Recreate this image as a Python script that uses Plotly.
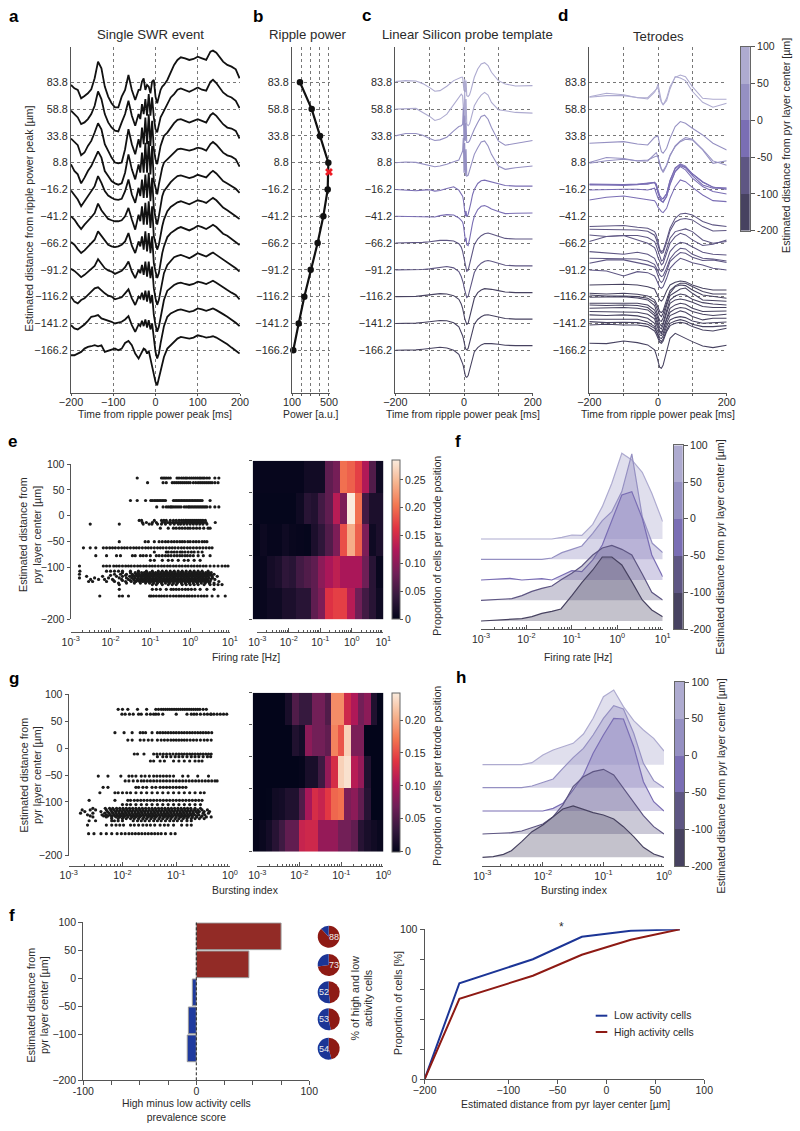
import plotly.graph_objects as go

W, H = 800, 1131
FONT = "Liberation Sans, Arial, sans-serif"
INK = "#2a2a2a"
LINE = "#555555"
BANDS = ["#aeabd0", "#9590c2", "#7a6eb4", "#5e5683", "#474260"]
ROCKET = [[0, "#03051a"], [1/7, "#35193e"], [2/7, "#701f57"], [3/7, "#ad1759"],
          [4/7, "#e13342"], [5/7, "#f37651"], [6/7, "#f6b48f"], [1, "#faebdd"]]
RED, BLUE = "#922b26", "#1f3a9e"

ROWS = [83.8, 58.8, 33.8, 8.8, -16.2, -41.2, -66.2, -91.2, -116.2, -141.2, -166.2]
ROW_TEXT = ["83.8", "58.8", "33.8", "8.8", "−16.2", "−41.2", "−66.2", "−91.2", "−116.2", "−141.2", "−166.2"]
ROW_BAND = [0, 0, 1, 1, 2, 2, 3, 3, 4, 4, 4]
DEFL = 3.216  # trace amplitude units per axis unit

T_A = [-200,-192,-184,-176,-168,-160,-152,-144,-136,-128,-120,-112,-104,-96,-88,-80,-72,-64,-56,-48,-40,-36,-32,-28,-24,-20,-16,-12,-8,-4,0,4,8,12,16,20,28,36,44,52,60,70,80,90,100,110,120,130,136,144,152,160,170,180,190,199]
A0 = [-8,-18,-23,-48,-41,-33,-21,12,62,42,-13,-43,-63,-75,-75,-43,-23,22,-23,-53,-23,-23,2,12,-23,-8,-13,-33,2,7,-43,-63,-43,-23,-13,-8,7,32,52,67,75,72,67,70,77,72,67,92,95,89,77,62,52,47,39,12]
A1 = [-5,-15,-25,-45,-40,-30,-15,10,53,30,-15,-40,-55,-65,-67,-40,-15,25,-20,-50,-15,-30,15,-15,30,-20,45,-20,35,-25,-60,-70,-45,-25,-15,-5,15,35,45,58,62,58,52,58,65,58,55,82,88,78,65,50,40,35,25,3]
A2 = [-8,-18,-28,-58,-50,-30,-15,10,38,20,-25,-45,-65,-80,-82,-80,-40,20,-25,-55,-10,-35,25,-25,55,-25,65,-30,45,-40,-70,-85,-55,-30,-15,0,10,25,38,48,50,45,40,45,50,45,40,62,68,60,48,35,25,22,15,-8]
A3 = [-5,-25,-35,-62,-45,-25,-10,10,34,15,-25,-40,-55,-62,-66,-62,-30,25,-20,-50,-5,-30,30,-30,60,-30,65,-35,50,-55,-80,-95,-65,-35,-15,0,10,22,32,40,42,40,36,40,45,42,36,56,62,54,42,30,22,18,10,-12]
A4 = [-3,-15,-30,-50,-35,-20,-5,10,40,20,-5,-18,-25,-30,-31,-28,-5,30,-15,-40,5,-20,30,-25,45,-25,50,-35,35,-55,-85,-105,-80,-45,-20,-5,10,22,32,40,42,38,34,38,44,40,36,50,56,48,36,25,18,10,2,-10]
A5 = [0,-10,-25,-38,-25,-15,-3,10,38,18,5,-8,-12,-15,-15,-12,0,25,-10,-40,5,-15,30,-25,40,-25,45,-35,30,-60,-80,-100,-85,-55,-30,-10,15,28,35,42,45,40,36,42,48,45,40,50,55,48,36,26,18,10,0,-8]
A6 = [3,-5,-18,-30,-22,-12,-2,10,35,22,8,-5,-10,-12,-10,-5,5,30,-8,-30,5,-10,20,-20,35,-25,30,-30,20,-60,-85,-105,-90,-55,-30,-10,18,30,38,44,48,42,38,44,52,48,42,50,55,48,38,28,22,12,2,-6]
A7 = [3,-3,-12,-22,-15,-5,3,12,32,20,5,-2,-5,-12,-8,-3,8,25,-5,-25,0,-10,15,-15,25,-20,25,-25,10,-55,-85,-105,-90,-60,-32,-10,15,28,38,42,45,40,35,42,50,45,40,48,52,45,38,30,22,15,5,-5]
A8 = [0,-15,-20,-10,-5,5,15,25,28,18,10,3,0,-8,-5,-2,10,22,-5,-25,0,-5,12,-10,18,-15,18,-20,5,-55,-85,-105,-90,-60,-32,-10,18,28,35,40,42,38,35,38,45,42,38,44,48,42,36,28,20,12,5,-8]
A9 = [-5,-15,-18,-10,-3,8,20,22,25,15,12,8,5,0,2,5,12,22,-5,-25,-3,-8,8,-8,12,-12,10,-18,0,-50,-85,-105,-90,-60,-32,-8,20,30,35,40,42,38,35,38,45,42,38,42,45,40,35,28,20,12,2,-8]
A10 = [-15,-15,-10,-5,5,10,12,15,12,15,-5,-2,2,5,0,5,22,28,15,-10,-25,-15,-5,5,2,-10,-2,-25,-45,-70,-95,-105,-85,-60,-40,-20,5,15,28,35,40,38,35,38,45,42,38,40,42,38,32,25,18,8,-2,-10]
A_TRACES = [A0, A1, A2, A3, A4, A5, A6, A7, A8, A9, A10]

POWER = [186, 313, 403, 493, 486, 439, 377, 302, 233, 172, 114]
PEAK_POWER, PEAK_DEPTH = 500, 0.1

T_C = [-200,-170,-140,-120,-100,-85,-70,-50,-30,-15,-8,-4,-2,0,2,4,6,8,12,16,20,25,30,40,50,60,70,80,100,120,150,200]
C0 = [2,5,4,-4,-16,-27,-25,-12,5,13,15,15,0,-25,10,-30,5,-40,-43,-38,-25,-5,15,40,55,59,50,30,5,-5,-11,-10]
C1 = [0,2,2,-10,-22,-34,-30,-15,15,35,45,40,0,-30,55,-40,30,-45,-50,-45,-30,-5,10,28,42,50,42,20,-2,-5,-10,-12]
C2 = [0,7,7,2,-8,-14,-12,-4,15,28,30,35,85,-20,60,-15,40,-20,-20,-15,-5,10,20,40,58,62,50,25,-15,-28,-22,-14]
C3 = [0,2,1,-3,-8,-12,-10,-5,3,8,25,35,75,-30,60,-40,40,-40,-38,-25,-10,5,25,45,62,65,50,25,-10,-20,-15,-10]
C4 = [0,-1,-4,-2,-1,-5,-3,3,8,-2,-15,-20,-30,-45,-50,-80,-65,-82,-75,-60,-40,-15,0,18,26,28,25,22,16,12,10,10]
C5 = [0,0,-1,-2,-1,-2,2,5,4,-5,-12,-18,-25,-35,-55,-75,-65,-85,-88,-70,-45,-20,0,20,30,32,28,22,14,8,9,10]
C6 = [0,0,1,2,4,6,8,8,6,-2,-12,-25,-35,-50,-60,-72,-78,-85,-82,-65,-45,-22,-5,12,22,28,30,27,20,14,12,12]
C7 = [0,0,0,1,3,5,8,10,6,-5,-20,-32,-40,-52,-62,-72,-78,-83,-80,-65,-45,-25,-8,10,20,26,28,26,20,14,12,12]
C8 = [0,0,1,3,6,8,9,8,3,-8,-22,-35,-42,-55,-65,-74,-79,-83,-80,-62,-42,-22,-5,12,20,24,24,22,18,14,12,12]
C9 = [0,0,1,3,6,8,9,8,2,-10,-25,-37,-44,-56,-66,-74,-78,-79,-75,-58,-38,-18,-2,12,20,25,26,24,20,15,13,13]
C10 = [0,0,1,3,6,8,9,7,0,-12,-27,-40,-47,-60,-70,-77,-80,-81,-76,-60,-40,-20,-5,8,16,20,21,20,18,15,14,14]
C_TRACES = [C0, C1, C2, C3, C4, C5, C6, C7, C8, C9, C10]

T_D = [-200,-150,-100,-60,-30,-10,-5,0,5,10,15,25,35,50,65,80,100,130,160,200]
D_BASE = [70.4,69.8,26.9,8.9,8.2,-11,-12,-16.6,-26,-11.5,-50.8,-53.3,-58.6,-64.8,-74.2,-80.4,-85,-91.3,-105.3,-113,-114.6,-116.8,-122.4,-123.9,-127,-130.1,-133.2,-137.3,-139.5,-142.6,-159.7]
D_BAND = [0,0,1,1,1,2,2,2,2,2,3,3,3,3,3,3,3,3,4,4,4,4,4,4,4,4,4,4,4,4,4]
D_TRACES = [
 [0,10,6,-3,-3,18,22,38,5,-15,-25,-5,30,58,65,60,30,-5,-8,-8],
 [0,5,5,-2,-5,15,25,30,0,-15,-22,-10,25,62,58,50,18,-15,-30,-18],
 [0,2,5,-2,-5,18,20,22,-5,-25,-30,-15,15,50,65,60,45,25,0,-20],
 [0,15,12,5,5,25,30,18,-5,-20,-30,-10,20,50,65,75,70,40,5,-8],
 [0,8,12,8,10,20,22,20,-5,-18,-22,-5,25,50,65,72,70,40,0,8],
 [0,-1,-2,0,2,4,0,-20,-35,-42,-45,-30,10,45,58,50,30,5,-10,-12],
 [0,0,0,2,2,8,-5,-25,-38,-48,-50,-35,5,40,58,52,28,0,-10,-10],
 [0,2,2,2,0,5,-8,-25,-30,-35,-38,-20,15,55,70,60,35,10,-5,-12],
 [0,8,12,5,0,-2,-10,-22,-28,-35,-38,-25,5,40,60,55,38,15,-2,-5],
 [0,-2,-3,-1,3,6,-2,-25,-40,-45,-42,-28,12,50,62,55,32,8,-8,-15],
 [0,1,3,-2,-5,-15,-25,-45,-68,-75,-72,-40,-5,25,38,40,35,15,5,0],
 [0,0,0,-2,-6,-18,-30,-48,-65,-72,-70,-40,-5,22,30,32,28,8,-5,-4],
 [0,-5,-2,-2,-8,-20,-32,-50,-68,-78,-75,-45,-10,10,15,18,10,-15,-25,-20],
 [0,15,18,5,-5,-18,-30,-48,-62,-70,-65,-35,-5,15,25,20,5,-12,-8,5],
 [0,-5,-8,-2,-8,-20,-30,-42,-55,-60,-55,-30,0,18,28,25,15,-2,-8,-10],
 [0,0,0,-2,-8,-18,-28,-38,-50,-55,-52,-30,-2,18,30,28,12,0,-2,-8],
 [0,10,10,2,-5,-12,-22,-38,-52,-58,-52,-25,5,20,32,30,18,8,10,2],
 [0,-3,-18,-5,-8,-18,-28,-40,-52,-55,-50,-25,5,22,35,30,22,15,5,0],
 [0,2,2,0,-5,-12,-22,-35,-45,-48,-42,-18,0,8,12,10,0,-10,-15,-15],
 [0,-2,0,-3,-8,-20,-30,-42,-55,-58,-52,-20,8,22,30,30,20,5,-2,-2],
 [0,-3,-3,-5,-10,-22,-35,-48,-60,-65,-55,-25,5,25,30,28,15,0,-5,-10],
 [0,2,2,-2,-8,-25,-40,-55,-70,-72,-62,-25,5,15,25,28,12,-8,-10,-12],
 [0,0,2,0,-5,-20,-32,-48,-62,-68,-58,-22,10,22,28,25,12,2,-2,-5],
 [0,-2,0,-2,-8,-25,-38,-52,-68,-72,-60,-25,5,15,18,15,8,-5,-8,-8],
 [0,2,2,0,-5,-22,-35,-52,-68,-72,-62,-28,0,10,15,12,0,-10,-10,-8],
 [0,0,0,-2,-8,-22,-38,-52,-62,-66,-55,-25,-2,8,12,10,0,-8,-12,-8],
 [0,-2,0,-3,-10,-25,-40,-52,-60,-62,-55,-25,-2,5,12,8,-5,-15,-10,-10],
 [0,0,2,0,-8,-22,-35,-45,-55,-58,-50,-22,-2,5,8,5,-5,-12,-10,-8],
 [0,-3,-2,-3,-8,-20,-30,-42,-55,-60,-52,-25,-5,2,6,2,-8,-15,-15,-12],
 [0,2,0,0,-5,-18,-28,-40,-52,-55,-48,-20,-2,5,8,5,-5,-15,-18,-10],
 [0,-1,7,2,-5,-20,-35,-55,-72,-75,-65,-25,15,30,22,15,5,-8,-13,-6],
]

E_DEPTH = [73,64,29.5,17,-9,-13,-16,-24,-50,-62,-70,-77,-86,-97,-107,-110,-113,-115,-117,-120,-123,-125,-127,-130,-133,-142,-155]
E_LOGX = [
 [-1.33,-0.72,-0.68,-0.64,-0.6,-0.55,-0.5,-0.33,-0.28,-0.22,-0.17,-0.12,-0.08,-0.02,0.03,0.08,0.13,0.18,0.23,0.27,0.32,0.36,0.42,0.48,0.62,0.72],
 [-1.07,-0.68,-0.6,-0.45,-0.4,-0.35,-0.3,-0.25,-0.2,-0.15,-0.1,-0.05,0,0.08,0.14,0.2,0.25,0.3,0.35,0.4,0.45,0.5,0.55,0.62,0.7],
 [-1.5,-1.33,-1.12,-0.99,-0.95,-0.9,-0.86,-0.82,-0.78,-0.74,-0.7,-0.66,-0.62,-0.42,-0.38,-0.34,-0.3,-0.26,-0.22,-0.18,-0.14,-0.1,-0.06,-0.02,0.02,0.06,0.1,0.14,0.18,0.22,0.26,0.3,0.5],
 [-0.84,-0.68,-0.6,-0.55,-0.5,-0.47,-0.43,-0.38,-0.33,-0.28,-0.23,-0.15,-0.1,-0.05,-0.02,0.02,0.06,0.1,0.14,0.18,0.22,0.26,0.3,0.34,0.38,0.42,0.5,0.62,0.72],
 [-1.28,-1.22,-0.9,-0.72,-0.66,-0.6,-0.5,-0.42,-0.35,-0.28,-0.22,-0.17,-0.12,-0.08,-0.03,0.02,0.07,0.12,0.17,0.22,0.27,0.32,0.38],
 [-1.2,-1.1,-0.95,-0.85,-0.7,-0.63,-0.56,-0.5,-0.44,-0.38,-0.33,-0.27,-0.21,-0.15,-0.1,-0.06,-0.01,0.04,0.09,0.14,0.19,0.24,0.29,0.34,0.4,0.63],
 [-2.51,-1.78,-1.18,-1.03,-0.96,-0.82,-0.72,-0.62,-0.5,-0.4,-0.3,-0.24,-0.16,-0.08,0,0.08,0.16,0.24,0.32,0.42],
 [-0.75,-0.55,-0.42,-0.35,-0.27,-0.2,-0.13,-0.06,0,0.08,0.16,0.24,0.34,0.45,0.5],
 [-1.78,-1.13,-1.05,-0.9,-0.78,-0.7,-0.62,-0.55,-0.47,-0.4,-0.33,-0.26,-0.2,-0.14,-0.06,0,0.08,0.15,0.22,0.3,0.36,0.42],
 [-2.68,-2.51,-2.37,-2.18,-2.1,-2.02,-1.95,-1.88,-1.8,-1.72,-1.65,-1.58,-1.5,-1.42,-1.35,-1.28,-1.2,-1.12,-1.05,-0.98,-0.9,-0.82,-0.75,-0.68,-0.6,-0.52,-0.45,-0.38,-0.3,-0.22,-0.15,-0.07,0,0.08,0.16,0.24,0.32,0.4,0.48,0.55],
 [-0.9,-0.6,-0.55,-0.47,-0.4,-0.33,-0.25,-0.2,-0.13,-0.05,0.03,0.1,0.2,0.3],
 [-2.37,-2.1,-1.85,-1.75,-1.45,-1.38,-1.25,-1.18,-1.1,-1.0,-0.85,-0.78,-0.7,-0.62,-0.55,-0.48,-0.4,-0.33,-0.26,-0.2,-0.13,-0.07,0,0.08,0.2,0.33,0.5],
 [-1.0,-0.9,-0.7,-0.55,-0.45,-0.3,-0.15,-0.05,0.1,0.25],
 [-2.78,-2.18,-2.1,-2.02,-1.92,-1.85,-1.78,-1.7,-1.62,-1.55,-1.48,-1.4,-1.32,-1.25,-1.17,-1.1,-1.02,-0.95,-0.88,-0.8,-0.72,-0.65,-0.57,-0.5,-0.42,-0.35,-0.27,-0.2,-0.12,-0.05,0.03,0.1,0.18,0.25,0.33,0.4,0.5,0.6,0.7,0.8,0.88,0.95],
 [-2.77,-2.1,-2.0,-1.9,-1.8,-1.7,-1.5,-1.3,-1.1,-0.95,-0.8,-0.7,-0.6,-0.5,-0.4,-0.3,-0.2,-0.1,0,0.1,0.2,0.3,0.45],
 [-1.7,-1.5,-1.38,-1.3,-1.22,-1.15,-1.08,-1.01,-0.94,-0.87,-0.8,-0.73,-0.66,-0.59,-0.52,-0.45,-0.38,-0.31,-0.24,-0.17,-0.1,-0.03,0.04,0.11,0.18,0.25,0.32,0.39,0.46,0.53],
 [-2.78,-1.9,-1.75,-1.6,-1.45,-1.35,-1.28,-1.2,-1.12,-1.05,-0.98,-0.9,-0.83,-0.76,-0.69,-0.62,-0.55,-0.48,-0.41,-0.34,-0.27,-0.2,-0.13,-0.06,0.01,0.08,0.15,0.22,0.29,0.36,0.43,0.5,0.6],
 [-2.0,-1.62,-1.46,-1.37,-1.29,-1.22,-1.15,-1.08,-1.01,-0.94,-0.87,-0.8,-0.73,-0.66,-0.59,-0.52,-0.45,-0.38,-0.31,-0.24,-0.17,-0.1,-0.03,0.04,0.11,0.18,0.25,0.32,0.39,0.46,0.54],
 [-2.6,-2.2,-1.85,-1.7,-1.52,-1.42,-1.32,-1.25,-1.17,-1.1,-1.03,-0.95,-0.88,-0.81,-0.74,-0.67,-0.6,-0.53,-0.46,-0.39,-0.32,-0.25,-0.18,-0.11,-0.04,0.03,0.1,0.17,0.24,0.31,0.38,0.45,0.55,0.68],
 [-2.78,-2.4,-2.05,-1.78,-1.6,-1.47,-1.38,-1.3,-1.22,-1.14,-1.07,-1,-0.93,-0.86,-0.79,-0.72,-0.65,-0.58,-0.51,-0.44,-0.37,-0.3,-0.23,-0.16,-0.09,-0.02,0.05,0.12,0.19,0.26,0.33,0.4,0.47,0.56],
 [-2.5,-2.3,-2.15,-1.95,-1.72,-1.55,-1.42,-1.33,-1.25,-1.18,-1.11,-1.04,-0.97,-0.9,-0.83,-0.76,-0.69,-0.62,-0.55,-0.48,-0.41,-0.34,-0.27,-0.2,-0.13,-0.06,0.01,0.08,0.15,0.22,0.29,0.36,0.43,0.52,0.62],
 [-1.92,-1.7,-1.5,-1.4,-1.31,-1.23,-1.16,-1.09,-1.02,-0.95,-0.88,-0.81,-0.74,-0.67,-0.6,-0.53,-0.46,-0.39,-0.32,-0.25,-0.18,-0.11,-0.04,0.03,0.1,0.17,0.24,0.31,0.38,0.45],
 [-2.55,-2.45,-2.1,-1.9,-1.62,-1.48,-1.36,-1.27,-1.19,-1.12,-1.05,-0.98,-0.91,-0.84,-0.77,-0.7,-0.63,-0.56,-0.49,-0.42,-0.35,-0.28,-0.21,-0.14,-0.07,0,0.07,0.14,0.21,0.28,0.35,0.42,0.5,0.72],
 [-1.8,-1.6,-1.4,-1.25,-1.12,-1.02,-0.92,-0.82,-0.72,-0.62,-0.52,-0.42,-0.32,-0.22,-0.12,-0.02,0.08,0.18,0.28,0.38,0.48,0.6],
 [-1.78,-0.95,-0.85,-0.7,-0.55,-0.45,-0.35,-0.2,-0.1,0,0.1,0.2,0.35,0.5,0.6,0.7,0.8],
 [-1.78,-0.95,-0.85,-0.75,-0.6,-0.48,-0.42,-0.35,-0.28,-0.2,-0.12,-0.05,0.03,0.12,0.25,0.42,0.6],
 [-2.27,-1.78,-1.7,-1.55,-1.02,-0.98,-0.92,-0.85,-0.78,-0.72,-0.65,-0.58,-0.5,-0.42,-0.35,-0.28,-0.22,-0.15,-0.08,-0.02,0.05,0.12,0.2,0.28,0.35,0.42,0.55,0.7,0.88],
]
G_DEPTH = [72,63,28.6,15,-11,-16,-24,-52,-61,-73,-83,-97,-105,-112,-115,-118,-121,-124,-126,-128,-131,-135,-143,-159]
G_LOGX = [
 [-2.08,-2.0,-1.9,-1.72,-1.55,-1.38,-1.33,-1.28,-1.24,-1.2,-1.16,-1.12,-1.08,-1.04,-1,-0.96,-0.92,-0.88,-0.84,-0.8,-0.76,-0.72,-0.68,-0.64,-0.6,-0.56,-0.5,-0.44],
 [-2.01,-1.95,-1.87,-1.8,-1.7,-1.65,-1.55,-1.48,-1.42,-1.38,-1.33,-1.25,-1.0,-0.8,-0.72,-0.67,-0.62,-0.55,-0.48,-0.42,-0.36,-0.3,-0.24,-0.18,-0.12,-0.06,-0.35],
 [-2.14,-1.97,-1.82,-1.67,-1.62,-1.57,-1.45,-1.35,-1.3,-1.25,-1.2,-1.15,-1.1,-1.05,-1,-0.95,-0.9,-0.85,-0.8,-0.75,-0.7,-0.65,-0.6,-0.55,-0.5,-0.45,-0.4,-0.34],
 [-1.9,-1.82,-1.67,-1.6,-1.52,-1.45,-1.35,-1.28,-1.22,-1.16,-1.1,-1.05,-1,-0.95,-0.9,-0.85,-0.8,-0.74,-0.68,-0.62,-0.55,-0.48,-0.42,-0.35],
 [-1.78,-1.72,-1.6,-1.42,-1.36,-1.3,-1.24,-1.18,-1.12,-1.06,-1,-0.95,-0.9,-0.85,-0.8,-0.75,-0.7,-0.65,-0.6,-0.55,-0.5,-0.45,-0.4,-0.35],
 [-1.35,-1.25,-1.18,-1.1,-1.02,-0.95,-0.88,-0.8,-0.72,-0.65,-0.58,-0.5,-0.42,-0.36],
 [-1.48,-1.42,-1.3,-1.22,-1.05,-0.95,-0.85,-0.75,-0.65,-0.58,-0.52],
 [-2.45,-2.27,-2.03,-1.88,-1.82,-1.75,-1.65,-1.58,-1.5,-1.42,-1.36,-1.3,-1.24,-1.18,-1.12,-1.05,-0.88,-0.78,-0.6,-0.4],
 [-1.95,-1.88,-1.8,-1.72,-1.65,-1.6,-1.54,-1.48,-1.42,-1.36,-1.3,-1.24,-1.18,-1.12,-1.06,-1,-0.94,-0.88,-0.82,-0.76,-0.7,-0.64,-0.58,-0.52,-0.46,-0.4,-0.34,-0.28,-0.24],
 [-2.36,-2.27,-1.75,-1.7,-1.62,-1.55,-1.45,-1.38,-1.3,-1.24,-1.18,-1.12,-1.06,-1,-0.94,-0.88,-0.82],
 [-2.42,-2.14,-2.08,-2,-1.92,-1.85,-1.75,-1.65,-1.55,-1.45,-1.35,-1.25,-1.15,-1.05,-0.95,-0.85,-0.75,-0.65,-0.55,-0.48],
 [-2.62,-2.14,-1.9,-1.85,-1.78,-1.72,-1.66,-1.6,-1.54,-1.48,-1.42,-1.36,-1.3,-1.24,-1.18,-1.12,-1.06,-1,-0.94,-0.88,-0.82,-0.76,-0.7,-0.64,-0.58,-0.52],
 [-2,-1.92,-1.85,-1.75,-1.65,-1.55,-1.45,-1.35,-1.25,-1.15,-1.05,-0.95,-0.85,-0.75,-0.65,-0.55],
 [-2.55,-2.32,-2.24,-2.18,-2.11,-2.05,-1.99,-1.93,-1.87,-1.81,-1.75,-1.69,-1.63,-1.57,-1.51,-1.45,-1.39,-1.33,-1.27,-1.21,-1.15,-1.09,-1.03,-0.97,-0.91,-0.85,-0.79,-0.73,-0.65,-0.55],
 [-2.75,-2.6,-2.5,-2.3,-2.22,-2.16,-2.1,-2.04,-1.98,-1.92,-1.86,-1.8,-1.74,-1.68,-1.62,-1.56,-1.5,-1.44,-1.38,-1.32,-1.26,-1.2,-1.14,-1.08,-1.02,-0.96,-0.9,-0.84,-0.78,-0.72,-0.66,-0.6,-0.52,-0.42],
 [-2.7,-2.4,-2.28,-2.2,-2.13,-2.07,-2.01,-1.95,-1.89,-1.83,-1.77,-1.71,-1.65,-1.59,-1.53,-1.47,-1.41,-1.35,-1.29,-1.23,-1.17,-1.11,-1.05,-0.99,-0.93,-0.87,-0.81,-0.75,-0.69,-0.63,-0.57,-0.48,-0.38],
 [-2.78,-2.55,-2.33,-2.25,-2.18,-2.12,-2.06,-2,-1.94,-1.88,-1.82,-1.76,-1.7,-1.64,-1.58,-1.52,-1.46,-1.4,-1.34,-1.28,-1.22,-1.16,-1.1,-1.04,-0.98,-0.92,-0.86,-0.8,-0.74,-0.68,-0.6,-0.5,-0.4],
 [-2.65,-2.38,-2.3,-2.23,-2.16,-2.1,-2.04,-1.98,-1.92,-1.86,-1.8,-1.74,-1.68,-1.62,-1.56,-1.5,-1.44,-1.38,-1.32,-1.26,-1.2,-1.14,-1.08,-1.02,-0.96,-0.9,-0.84,-0.78,-0.72,-0.66,-0.58,-0.47],
 [-2.6,-2.35,-2.27,-2.2,-2.14,-2.08,-2.02,-1.96,-1.9,-1.84,-1.78,-1.72,-1.66,-1.6,-1.54,-1.48,-1.42,-1.36,-1.3,-1.24,-1.18,-1.12,-1.06,-1,-0.94,-0.88,-0.82,-0.76,-0.7,-0.62,-0.52],
 [-2.55,-2.3,-2.2,-2.12,-2.05,-1.98,-1.9,-1.82,-1.75,-1.68,-1.6,-1.52,-1.45,-1.38,-1.3,-1.22,-1.15,-1.08,-1,-0.92,-0.85,-0.78,-0.7,-0.62,-0.54,-0.44,-0.35],
 [-2.2,-2.08,-2.0,-1.93,-1.85,-1.78,-1.7,-1.62,-1.55,-1.47,-1.4,-1.32,-1.25,-1.17,-1.1,-1.02,-0.95,-0.87,-0.8,-0.72,-0.65,-0.57,-0.48],
 [-2.62,-2.5,-2.2,-2.15,-2.08,-2,-1.8,-1.72,-1.65,-1.58,-1.5,-1.42,-1.35,-1.28,-1.2,-1.12,-1.05,-0.98,-0.9,-0.8,-0.72],
 [-2.65,-2.3,-2.2,-2.12,-2.05,-1.98,-1.85,-1.78,-1.7,-1.62,-1.55,-1.48,-1.4,-1.3,-1.22,-1.15,-1.05,-0.9,-0.8,-0.72],
 [-2.63,-2.53,-2.4,-2.3,-2.2,-2.1,-2.02,-1.95,-1.88,-1.82,-1.76,-1.7,-1.64,-1.58,-1.52,-1.46,-1.4,-1.34,-1.28,-1.2,-1.1,-1.02],
]

HEAT_E = [
 [.003,.003,.003,.003,.003,.003,.003,.012,.012,.012,.07,.085,.2,.19,.17,.125,.06,.01],
 [.002,.002,.002,.002,.002,.002,.01,.03,.025,.05,.07,.13,.09,.285,.2,.05,.02,.02],
 [0,.008,.003,.003,.01,.005,.003,.002,.02,.035,.06,.09,.18,.24,.19,.09,.01,.02],
 [.002,.005,.015,.02,.035,.03,.05,.06,.07,.1,.12,.135,.12,.12,.12,.08,.03,.005],
 [.002,.005,.01,.01,.02,.02,.03,.03,.07,.09,.16,.17,.17,.13,.08,.05,.03,.01],
]
HEAT_G = [
 [0,0,0,0,0,.015,.05,.035,.035,.07,.07,.05,.185,.185,.125,.105,.07,.085,.02,0],
 [0,0,0,0,0,0,.02,.012,.085,.07,.07,.06,.18,.155,.225,.075,.075,0,0,0],
 [0,0,0,0,0,0,0,.002,.015,.015,.04,.09,.13,.225,.235,.11,.09,.02,0,0],
 [0,0,.001,.01,.012,.02,.02,.05,.1,.13,.12,.14,.165,.17,.075,.085,.06,.025,0,0],
 [.002,.005,.012,.025,.04,.06,.06,.12,.125,.125,.09,.09,.09,.07,.07,.06,.025,.015,.01,.005],
]

F_LOGX = [
 [-3,-1.44,-1.22,-1,-0.78,-0.54,-0.33,-0.12,0.1,0.32,0.55,0.76,1],
 [-3,-1.66,-1.44,-1.22,-1,-0.78,-0.54,-0.33,-0.12,0.1,0.32,0.55,0.77,1],
 [-3,-2.58,-2.36,-2.1,-1.66,-1.44,-1.22,-1,-0.78,-0.54,-0.33,-0.12,0.1,0.32,0.55,0.76,1],
 [-3,-2.32,-2.1,-1.88,-1.66,-1.44,-1.22,-1,-0.78,-0.54,-0.33,-0.12,0.1,0.32,0.55,0.76,1],
 [-3,-2.32,-2.1,-1.88,-1.66,-1.44,-1.24,-1,-0.78,-0.54,-0.33,-0.12,0.1,0.32,0.55,0.76,1],
]
F_VAL = [
 [0,0,5,12,11,44,97,167,257,237,200,137,52],
 [0,0,4,20,30,40,78,116,143,203,316,128,48,20],
 [0,2,5,0,4,0,14,28,25,60,105,180,255,265,185,75,10],
 [0,5,14,27,36,43,63,81,103,136,157,165,153,136,79,24,1],
 [0,4,7,13,23,29,36,76,115,153,192,192,168,118,63,33,13],
]
RIDGE_OFFSET_F = [246, 185, 123, 62, 0]
H_LOGX = [
 [-3,-2.35,-2.18,-2,-1.83,-1.67,-1.5,-1.33,-1.17,-1,-0.83,-0.67,-0.5,-0.34,-0.17,0],
 [-3,-2.35,-2.18,-2,-1.83,-1.67,-1.5,-1.33,-1.17,-1,-0.83,-0.67,-0.5,-0.34,-0.17,0],
 [-3,-2,-1.83,-1.67,-1.5,-1.33,-1.17,-1,-0.83,-0.67,-0.5,-0.34,-0.17,0],
 [-3,-2.52,-2.35,-2.18,-2,-1.83,-1.67,-1.5,-1.33,-1.17,-1,-0.83,-0.67,-0.5,-0.34,-0.17,0],
 [-3,-2.82,-2.65,-2.52,-2.35,-2.18,-2,-1.83,-1.67,-1.5,-1.33,-1.17,-1,-0.83,-0.67,-0.5,-0.34,-0.17,0],
]
H_VAL = [
 [0,0,6,29,44,54,64,92,139,204,224,174,132,104,79,41],
 [0,0,5,15,26,58,90,118,158,208,246,236,163,73,21,0],
 [0,0,8,23,63,108,173,228,278,276,193,88,28,0],
 [0,4,9,19,30,52,87,142,172,187,194,177,137,92,55,22,0],
 [0,2,9,20,47,77,97,122,145,154,144,134,127,115,92,62,30,10,0],
]
RIDGE_OFFSET_H = [278, 209, 139, 70, 0]

BAR_DEPTH = [75, 25, -25, -75, -125]
BAR_SCORE = [75, 46.5, -3.5, -7, -8]
PIE_HIGH = [88, 73, 48, 47, 46]
PIE_LABEL = ["88", "73", "52", "53", "54"]

CDF_X = [-185.4, -150, -75, -25, 25, 75]
CDF_LOW = [0, 64, 80, 95, 99, 100]
CDF_HIGH = [0, 53.5, 69, 83, 93, 100]

LOG_MINOR = [m * 10.0**e for e in range(-3, 1) for m in range(2, 10)]

fig = go.Figure()
layout = dict(width=W, height=H, margin=dict(l=0, r=0, t=0, b=0, autoexpand=False),
              paper_bgcolor="white", plot_bgcolor="rgba(0,0,0,0)", showlegend=False,
              font=dict(family=FONT, size=10.5, color=INK))
annotations, shapes, next_ax = [], [], [2]


def ax(x0, x1, y0, y1, xc, yc):
    i = next_ax[0]; next_ax[0] += 1
    xd = dict(domain=[x0 / W, x1 / W], anchor=f"y{i}", showgrid=False, zeroline=False)
    yd = dict(domain=[1 - y1 / H, 1 - y0 / H], anchor=f"x{i}", showgrid=False, zeroline=False)
    xd.update(xc); yd.update(yc)
    layout[f"xaxis{i}"] = xd; layout[f"yaxis{i}"] = yd
    return f"x{i}", f"y{i}"


def ann(text, x, y, size=10.4, angle=0, bold=False, color=INK, xanchor="center"):
    annotations.append(dict(text=f"<b>{text}</b>" if bold else text, x=x / W, y=1 - y / H, xref="paper", yref="paper",
                            showarrow=False, xanchor=xanchor, yanchor="middle", textangle=angle,
                            font=dict(size=size, color=color, family=FONT)))


spine = dict(showline=True, linecolor=LINE, linewidth=1.3)
dot_grid = dict(showgrid=True, gridcolor="#777777", gridwidth=0.8, griddash="dot")
Y_RANGE = [-205.8, 117]
row_axis = dict(tickmode="array", tickvals=ROWS, ticktext=ROW_TEXT, range=Y_RANGE, ticks="", tickfont=dict(size=10.8),
                **spine, **dot_grid)


def time_axis(major, labels, minor):
    return dict(range=[-200, 200], tickmode="array", tickvals=major, ticktext=labels, ticks="outside", ticklen=2,
                tickcolor=LINE, tickfont=dict(size=10.8), ticklabelstandoff=-3,
                minor=dict(tickmode="array", tickvals=minor, ticks="outside", ticklen=2, tickcolor=LINE, showgrid=True,
                           gridcolor="#777777", gridwidth=0.8, griddash="dot"),
                **spine, **dot_grid)


# --- a
xa, ya = ax(71, 240, 46.7, 392.7, time_axis([-200, -100, 0, 100, 200], ["−200", "−100", "0", "100", "200"], []), row_axis)
for row, tr in zip(ROWS, A_TRACES):
    assert len(tr) == len(T_A)
    fig.add_trace(go.Scatter(x=T_A, y=[row + v / DEFL for v in tr], mode="lines", line=dict(color="#111111", width=1.8),
                             xaxis=xa, yaxis=ya, showlegend=False))

# --- b
xb, yb = ax(292, 330, 46.7, 392.7,
            dict(range=[100, 511], tickmode="array", tickvals=[100, 500], ticktext=["100", "500"],
                 ticks="outside", ticklen=2, tickcolor=LINE, tickfont=dict(size=10.8), ticklabelstandoff=-3,
                 minor=dict(tickmode="array", tickvals=[200, 300, 400], ticks="outside", ticklen=2, tickcolor=LINE, showgrid=True,
                            gridcolor="#777777", gridwidth=0.8, griddash="dot"),
                 **spine, **dot_grid), row_axis)
fig.add_trace(go.Scatter(x=POWER, y=ROWS, mode="lines+markers", line=dict(color="#111111", width=2.2),
                         marker=dict(size=6.5, color="#111111"), cliponaxis=False, xaxis=xb, yaxis=yb, showlegend=False))
fig.add_trace(go.Scatter(x=[PEAK_POWER], y=[PEAK_DEPTH], mode="markers", marker=dict(symbol="x", size=7, color="#ee1c25"),
                         cliponaxis=False, xaxis=xb, yaxis=yb, showlegend=False))

# --- c
xc, yc = ax(395.3, 532.7, 46.7, 392.7, time_axis([-200, 0, 200], ["−200", "0", "200"], [-100, 100]), row_axis)
for row, band, tr in zip(ROWS, ROW_BAND, C_TRACES):
    assert len(tr) == len(T_C)
    fig.add_trace(go.Scatter(x=T_C, y=[row + v / DEFL for v in tr], mode="lines", line=dict(color=BANDS[band], width=1.1),
                             xaxis=xc, yaxis=yc, showlegend=False))

# --- d
xd_, yd_ = ax(589.3, 726.7, 46.7, 392.7, time_axis([-200, 0, 200], ["−200", "0", "200"], [-100, 100]), row_axis)
for base, band, tr in zip(D_BASE, D_BAND, D_TRACES):
    assert len(tr) == len(T_D)
    fig.add_trace(go.Scatter(x=T_D, y=[base + v / DEFL for v in tr], mode="lines", line=dict(color=BANDS[band], width=1.05),
                             xaxis=xd_, yaxis=yd_, showlegend=False))


def purple_bar(x0, x1, y0, y1):
    n = len(BANDS)
    scale = []
    for k, c in enumerate(BANDS[::-1]):
        scale += [[k / n, c], [(k + 1) / n, c]]
    xx, yy = ax(x0, x1, y0, y1,
                dict(range=[0, 1], showticklabels=False, ticks="", showline=True, mirror=True, linecolor="#666666", linewidth=1),
                dict(range=[0, n], side="right", tickmode="array", tickvals=[0, 1, 2, 3, 4, 5],
                     ticktext=["-200", "-100", "-50", "0", "50", "100"], ticks="outside", ticklen=4, tickcolor=LINE,
                     showline=True, mirror=True, linecolor="#666666", linewidth=1))
    fig.add_trace(go.Heatmap(z=[[k] for k in range(n)], x0=0.5, dx=1, y0=0.5, dy=1, colorscale=scale, zmin=-0.5, zmax=n - 0.5,
                             showscale=False, xaxis=xx, yaxis=yy, hoverinfo="skip"))


purple_bar(740.7, 750, 46.7, 230.7)


def log_axis(decades_from, decades_to, pos_py):
    vals = [10.0**e for e in range(decades_from, decades_to + 1)]
    text = [f"10<sup>{e}</sup>" for e in range(decades_from, decades_to + 1)]
    minor = [v for v in LOG_MINOR if v < 10.0**decades_to and v > 10.0**decades_from]
    return dict(type="log", range=[decades_from, decades_to], tickmode="array", tickvals=vals, ticktext=text,
                anchor="free", position=1 - pos_py / H, ticks="inside", ticklen=4, tickcolor=LINE, tickfont=dict(size=10.5),
                minor=dict(tickmode="array", tickvals=minor, ticks="inside", ticklen=2, tickcolor=LINE),
                showline=True, linecolor=LINE, linewidth=1.3)


depth_axis = dict(range=[-200, 100], tickmode="array", tickvals=[100, 50, 0, -50, -100, -200],
                  ticktext=["100", "50", "0", "−50", "−100", "−200"], ticks="outside", ticklen=3, tickcolor=LINE, **spine)


def scatter_panel(x0, x1, y0, y1, axis_py, dec_to, depths, rows):
    xx, yy = ax(x0, x1, y0, y1, log_axis(-3, dec_to, axis_py), depth_axis)
    xs, ys = [], []
    assert len(depths) == len(rows)
    for d, r in zip(depths, rows):
        xs += [10.0**v for v in r]
        ys += [d] * len(r)
    fig.add_trace(go.Scatter(x=xs, y=ys, mode="markers", marker=dict(size=3.2, color="#1a1a1a"), xaxis=xx, yaxis=yy, showlegend=False))


def heat_panel(z, zmax, tickvals, ticktext, x0, x1, y0, y1, logx0, axis_py, dec_to, cb_x0, cb_x1):
    cols = len(z[0])
    xx, yy = ax(x0, x1, y0, y1, dict(range=[0, cols], visible=False),
                dict(range=[0, 5], tickmode="array", tickvals=[0, 1, 2, 3, 4, 5], showticklabels=False,
                     ticks="outside", ticklen=3, tickcolor=LINE))
    fig.add_trace(go.Heatmap(z=z[::-1], x0=0.5, dx=1, y0=0.5, dy=1, colorscale=ROCKET, zmin=0, zmax=zmax, xaxis=xx, yaxis=yy,
                             hoverinfo="skip",
                             colorbar=dict(x=cb_x0 / W, xanchor="left", y=1 - y1 / H, yanchor="bottom", xpad=0, ypad=0,
                                           len=y1 - y0, lenmode="pixels", thickness=cb_x1 - cb_x0, thicknessmode="pixels",
                                           tickmode="array", tickvals=tickvals, ticktext=ticktext, ticks="outside", ticklen=3,
                                           tickcolor=LINE, outlinecolor="#666666", outlinewidth=1, tickfont=dict(size=10.5))))
    xl, yl = ax(logx0, x1, y0, y1, log_axis(-3, dec_to, axis_py), dict(visible=False, range=[0, 1]))
    fig.add_trace(go.Scatter(x=[10.0**-3, 10.0**dec_to], y=[0, 1], mode="markers", marker=dict(opacity=0), xaxis=xl, yaxis=yl,
                             showlegend=False, hoverinfo="skip"))


def ridge_panel(x0, x1, y0, y1, axis_py, dec_to, logxs, vals, offsets, yrange):
    xx, yy = ax(x0, x1, y0, y1, log_axis(-3, dec_to, axis_py), dict(visible=False, range=yrange))
    fills = ["rgba(174,171,208,0.38)", "rgba(149,144,194,0.38)", "rgba(122,110,180,0.32)", "rgba(94,86,131,0.32)", "rgba(71,66,96,0.32)"]
    for k, (lx, v, off) in enumerate(zip(logxs, vals, offsets)):
        assert len(lx) == len(v)
        px = [10.0**a for a in lx]
        py = [off + b for b in v]
        fig.add_trace(go.Scatter(x=px + px[::-1], y=py + [off] * len(px), mode="lines", fill="toself", fillcolor=fills[k],
                                 line=dict(width=0), xaxis=xx, yaxis=yy, showlegend=False, hoverinfo="skip"))
        fig.add_trace(go.Scatter(x=px, y=py, mode="lines", line=dict(color=BANDS[k], width=1.2), xaxis=xx, yaxis=yy, showlegend=False))


# --- e
scatter_panel(70.7, 230, 464, 619.3, 632, 1, E_DEPTH, E_LOGX)
heat_panel(HEAT_E, 0.285, [0, .05, .10, .15, .20, .25], ["0", "0.05", "0.10", "0.15", "0.20", "0.25"],
           252.7, 383.3, 460.7, 619.3, 257.3, 632, 1, 391.7, 400)
# --- f ridge
ridge_panel(481, 662.7, 444.3, 629, 629, 1, F_LOGX, F_VAL, RIDGE_OFFSET_F, [-24, 530])
purple_bar(673.7, 683, 445.3, 629)
# --- g
scatter_panel(68.7, 230, 694.3, 855.7, 865.7, 0, G_DEPTH, G_LOGX)
heat_panel(HEAT_G, 0.2415, [0, .05, .10, .15, .20], ["0", "0.05", "0.10", "0.15", "0.20"],
           252.7, 383.3, 692.7, 851.7, 257.3, 865.7, 0, 392.3, 400.7)
# --- h ridge
ridge_panel(482.3, 664, 682, 866, 866, 0, H_LOGX, H_VAL, RIDGE_OFFSET_H, [-26, 526])
purple_bar(675, 684.3, 682, 866)

# --- bottom bars
xbar, ybar = ax(83.3, 309.3, 922.3, 1080.3,
                dict(range=[-100, 100], tickmode="array", tickvals=[-100, 0, 100], ticktext=["-100", "0", "100"],
                     ticks="outside", ticklen=4, tickcolor=LINE, ticklabelstandoff=-3,
                     minor=dict(tickmode="array", tickvals=[-75, -50, -25, 25, 50, 75], ticks="outside", ticklen=4, tickcolor=LINE),
                     **spine),
                dict(range=[-182, 100], tickmode="array", tickvals=[100, 50, 0, -50, -100, -182],
                     ticktext=["100", "50", "0", "−50", "−100", "−200"], ticks="outside", ticklen=4, tickcolor=LINE, **spine))
fig.add_trace(go.Bar(x=BAR_SCORE, y=BAR_DEPTH, orientation="h", width=47.6, marker=dict(color=[RED if v > 0 else BLUE for v in BAR_SCORE],
                     line=dict(color="#999999", width=1)), xaxis=xbar, yaxis=ybar, showlegend=False))
fig.add_trace(go.Scatter(x=[0, 0], y=[-182, 100], mode="lines", line=dict(color="#222222", width=1, dash="3px,2px"),
                         xaxis=xbar, yaxis=ybar, showlegend=False))
PIE_CY = [936.7, 965, 992.3, 1019.3, 1048.7]
for cy, hi, lab in zip(PIE_CY, PIE_HIGH, PIE_LABEL):
    fig.add_trace(go.Pie(values=[hi, 100 - hi], sort=False, direction="clockwise", rotation=0, textinfo="none",
                         marker=dict(colors=["#8e1a14", "#1c3596"], line=dict(width=0)), showlegend=False, hoverinfo="skip",
                         domain=dict(x=[(328.7 - 11) / W, (328.7 + 11) / W], y=[1 - (cy + 11) / H, 1 - (cy - 11) / H])))
    ann(lab, 333.5 if int(lab) > 60 else 323.5, cy, size=9, color="#eeeeee")

# --- cdf
xcd, ycd = ax(424.7, 704.3, 929.3, 1079,
              dict(range=[-185.4, 100], tickmode="array", tickvals=[-185.4, -100, -50, 0, 50, 100],
                   ticktext=["−200", "−100", "−50", "0", "50", "100"], ticks="outside", ticklen=4, tickcolor=LINE,
                   ticklabelstandoff=-3, **spine),
              dict(range=[0, 100], tickmode="array", tickvals=[0, 100], ticktext=["0", "100"],
                   ticks="outside", ticklen=4, tickcolor=LINE,
                   minor=dict(tickmode="array", tickvals=[20, 40, 60, 80], ticks="outside", ticklen=4, tickcolor=LINE), **spine))
LEGEND_NAMES = ["Low activity cells", "High activity cells"]
LEGEND_COLORS = ["#1c3596", "#8e1a14"]
for name, col, vals in zip(LEGEND_NAMES, LEGEND_COLORS, [CDF_LOW, CDF_HIGH]):
    fig.add_trace(go.Scatter(x=CDF_X, y=vals, mode="lines", name=name, line=dict(color=col, width=2), xaxis=xcd, yaxis=ycd,
                             cliponaxis=False, showlegend=False))
for name, col, py in zip(LEGEND_NAMES, LEGEND_COLORS, [1015.7, 1032]):
    shapes.append(dict(type="line", xref="paper", yref="paper", x0=595.7 / W, x1=607.3 / W, y0=1 - py / H, y1=1 - py / H,
                       line=dict(color=col, width=2)))
    ann(name, 612.3, py, xanchor="left")

# --- text
for t, x, y in [("a", 14, 16), ("b", 258, 16), ("c", 366, 15), ("d", 563, 15), ("e", 12, 441), ("f", 458, 441), ("g", 14, 678), ("h", 461, 677), ("f", 12, 915)]:
    ann(t, x, y, size=17, bold=True, color="#000000")
for t, x, y in [("Single SWR event", 150.7, 34.5), ("Ripple power", 307.5, 34.5), ("Linear Silicon probe template", 467, 34.5), ("Tetrodes", 658, 36)]:
    ann(t, x, y, size=13.2)
for t, x, y in [("Time from ripple power peak [ms]", 155, 414.5), ("Power [a.u.]", 311, 414.5), ("Time from ripple power peak [ms]", 463, 414.5),
                ("Time from ripple power peak [ms]", 658, 414.5), ("Firing rate [Hz]", 246, 657), ("Firing rate [Hz]", 577.7, 657),
                ("Bursting index", 245, 890), ("Bursting index", 574, 890),
                ("Estimated distance from pyr layer center [µm]", 565, 1104)]:
    ann(t, x, y)
ann("High minus low activity cells<br>prevalence score", 186, 1110.7)
ann("Estimated distance from ripple power peak [µm]", 28, 218.5, angle=-90, size=10.7)
ann("Estimated distance from pyr layer center [µm]", 786, 146, angle=-90, size=10.7)
ann("Estimated distance from pyr layer center [µm]", 720, 547.5, angle=-90, size=10.7)
ann("Estimated distance from pyr layer center [µm]", 720, 786.5, angle=-90, size=10.7)
ann("Proportion of cells per tetrode position", 436.7, 546, angle=-90, size=10.7)
ann("Proportion of cells per tetrode position", 436.7, 776, angle=-90, size=10.7)
ann("Estimated distance from<br>pyr layer center [µm]", 30, 535, angle=-90, size=10.7)
ann("Estimated distance from<br>pyr layer center [µm]", 30.5, 775, angle=-90, size=10.7)
ann("Estimated distance from<br>pyr layer center [µm]", 37.5, 1005, angle=-90, size=10.7)
ann("% of high and low<br>activity cells", 361.5, 998, angle=-90, size=10.7)
ann("Proportion of cells [%]", 398, 1003, angle=-90, size=10.7)
ann("*", 561.3, 927, size=12)

layout["annotations"] = annotations
layout["shapes"] = shapes
fig.update_layout(**layout)
fig.write_html("out.html", config={"displayModeBar": False}, post_script="document.body.style.margin='0';")
